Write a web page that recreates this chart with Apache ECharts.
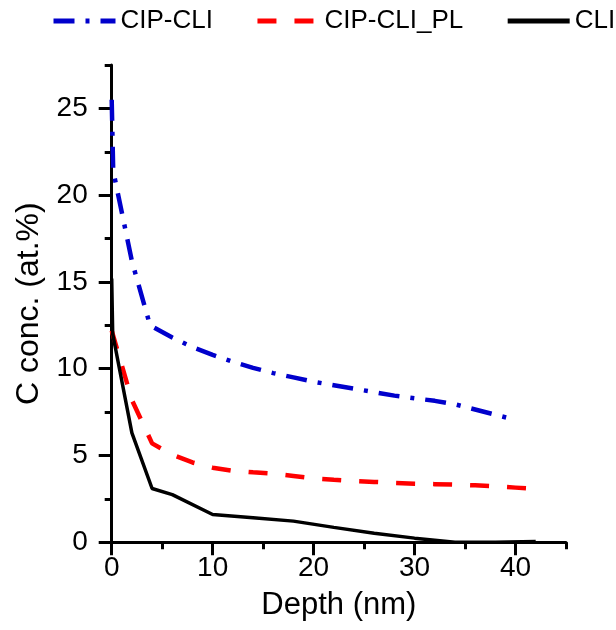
<!DOCTYPE html>
<html>
<head>
<meta charset="utf-8">
<script src="https://cdn.jsdelivr.net/npm/echarts@6/dist/echarts.min.js"></script>
<style>html,body{margin:0;padding:0;background:#fff}#c{width:616px;height:630px}</style>
</head>
<body>
<div id="c"></div>
<script>
const seriesNames = ['CIP-CLI', 'CIP-CLI_PL', 'CLI'];
const depthCIP = [0, 0.15, 2, 3.8, 6, 8, 10, 12, 14, 16, 18, 20, 22, 24, 26, 28, 30, 32, 34, 36, 38, 40];
const valCIP = [25.5, 21.4, 16.2, 12.5, 11.8, 11.25, 10.8, 10.4, 10.05, 9.75, 9.5, 9.25, 9.05, 8.85, 8.65, 8.45, 8.3, 8.15, 7.95, 7.65, 7.35, 7.05];
const depthPL = [0, 2, 4, 6, 8, 10, 12, 14, 16, 18, 20, 22, 24, 26, 28, 30, 32, 34, 36, 38, 40, 42];
const valPL = [12.2, 8.2, 5.7, 5.05, 4.6, 4.3, 4.12, 4.03, 3.95, 3.82, 3.68, 3.6, 3.53, 3.48, 3.42, 3.38, 3.35, 3.32, 3.28, 3.22, 3.15, 3.08];
const depthCLI = [0, 0.1, 2, 4, 6, 10, 14, 18, 22, 26, 30, 34, 38, 42];
const valCLI = [15.2, 12.0, 6.3, 3.1, 2.75, 1.6, 1.42, 1.22, 0.86, 0.52, 0.24, 0, 0, 0.05];
const xMajorTicks = [0, 10, 20, 30, 40];
const yMajorTicks = [0, 5, 10, 15, 20, 25];

const FONT = 'Liberation Sans, Arial, sans-serif';
const zip = (xs, ys) => xs.map((x, i) => [x, ys[i]]);

const chart = echarts.init(document.getElementById('c'), null, {renderer: 'canvas'});
const axisLine = {show: true, lineStyle: {color: '#000', width: 3}};
chart.setOption({
  animation: false,
  backgroundColor: '#fff',
  grid: {left: 111.7, right: 50, top: 65, bottom: 87.7, containLabel: false},
  legend: {
    top: 8, left: 51, width: 610, padding: 0, itemWidth: 62, itemHeight: 14, itemGap: 42,
    itemStyle: {opacity: 0},
    lineStyle: {width: 5},
    textStyle: {fontSize: 26, color: '#000', fontFamily: FONT},
    data: seriesNames
  },
  xAxis: [{
    type: 'value', min: 0, max: 45, interval: 5,
    name: 'Depth (nm)', nameLocation: 'middle', nameGap: 48,
    nameTextStyle: {fontSize: 31, color: '#000', fontFamily: FONT},
    axisLine: axisLine,
    axisTick: {show: true, inside: false, length: 7, lineStyle: {color: '#000', width: 3}},
    axisLabel: {fontSize: 28, color: '#000', fontFamily: FONT, margin: 12,
      formatter: v => (v % 10 === 0 ? String(v) : '')},
    splitLine: {show: false}
  }, {
    type: 'value', min: 0, max: 45, position: 'bottom', gridIndex: 0,
    axisLine: {show: false},
    axisTick: {show: true, length: 13, customValues: xMajorTicks, lineStyle: {color: '#000', width: 3}},
    axisLabel: {show: false},
    splitLine: {show: false}
  }],
  yAxis: [{
    type: 'value', min: 0, max: 27.5, interval: 2.5,
    name: 'C conc. (at.%)', nameLocation: 'middle', nameGap: 64,
    nameTextStyle: {fontSize: 32, color: '#000', fontFamily: FONT},
    axisLine: axisLine,
    axisTick: {show: true, inside: false, length: 7, lineStyle: {color: '#000', width: 3}},
    axisLabel: {fontSize: 28, color: '#000', fontFamily: FONT, margin: 24,
      formatter: v => (v % 5 === 0 ? String(v) : '')},
    splitLine: {show: false}
  }, {
    type: 'value', min: 0, max: 27.5, position: 'left', gridIndex: 0,
    axisLine: {show: false},
    axisTick: {show: true, length: 13, customValues: yMajorTicks, lineStyle: {color: '#000', width: 3}},
    axisLabel: {show: false},
    splitLine: {show: false}
  }],
  series: [{
    name: seriesNames[0], type: 'line', symbol: 'none', xAxisIndex: 0, yAxisIndex: 0,
    data: zip(depthCIP, valCIP),
    lineStyle: {color: '#0000cc', width: 4.5, type: [21, 11, 4, 11]},
    itemStyle: {color: '#0000cc'}
  }, {
    name: seriesNames[1], type: 'line', symbol: 'none', xAxisIndex: 0, yAxisIndex: 0,
    data: zip(depthPL, valPL),
    lineStyle: {color: '#ff0000', width: 4.5, type: [19, 18]},
    itemStyle: {color: '#ff0000'}
  }, {
    name: seriesNames[2], type: 'line', symbol: 'none', xAxisIndex: 0, yAxisIndex: 0,
    data: zip(depthCLI, valCLI),
    lineStyle: {color: '#000', width: 3.5},
    itemStyle: {color: '#000'}
  }]
});
</script>
</body>
</html>
